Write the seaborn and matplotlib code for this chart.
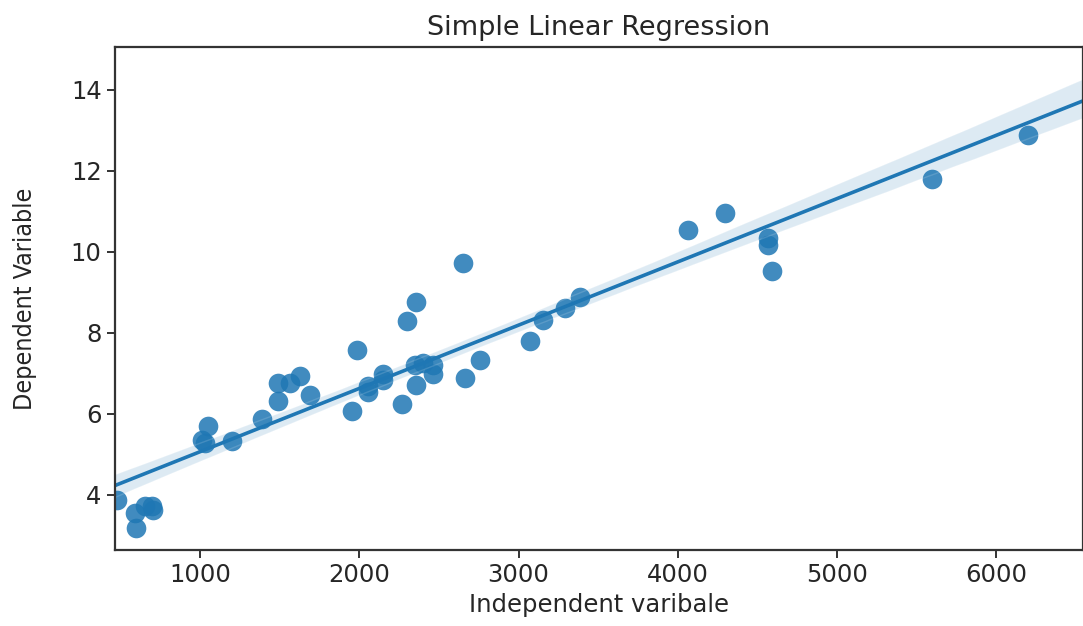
import numpy as np
import pandas as pd
import matplotlib
matplotlib.use("Agg")
import matplotlib.pyplot as plt
from matplotlib.path import Path
from matplotlib import font_manager
from matplotlib.font_manager import FontProperties
import seaborn as sns

# Data
independent = [480, 592, 598, 654, 698, 705, 1013, 1031, 1050, 1201, 1389, 1490,
               1490, 1565, 1628, 1690, 1954, 1985, 2055, 2055, 2149, 2149, 2268,
               2300, 2350, 2356, 2356, 2400, 2462, 2462, 2651, 2663, 2758, 3072,
               3153, 3291, 3386, 4064, 4296, 4566, 4566, 4591, 5595, 6198]
dependent = [3.88, 3.56, 3.19, 3.73, 3.73, 3.62, 5.36, 5.28, 5.70, 5.33, 5.88, 6.32,
             6.77, 6.77, 6.94, 6.47, 6.07, 7.58, 6.69, 6.54, 6.99, 6.84, 6.25,
             8.30, 7.21, 8.77, 6.72, 7.26, 7.21, 6.99, 9.73, 6.89, 7.33, 7.80,
             8.32, 8.62, 8.89, 10.54, 10.96, 10.35, 10.17, 9.53, 11.80, 12.89]

df = pd.DataFrame({"Independent varibale": independent,
                   "Dependent Variable": dependent})

sns.set_style("ticks")
plt.rcParams["font.family"] = ["DejaVu Sans"]

fig = plt.figure(figsize=(10.83, 6.26), dpi=100)
ax = fig.add_axes([0.106, 0.1214, 0.894, 0.8035])

# slightly wide elliptical marker, as in the reference
t = np.linspace(0, 2 * np.pi, 60)
ell = Path(np.column_stack([np.cos(t), 0.8 * np.sin(t)]), closed=True)

ax.set_xlim(466, 6543)
sns.regplot(data=df, x="Independent varibale", y="Dependent Variable", ax=ax,
            color="#1f77b4", truncate=False, seed=3, ci=85,
            scatter_kws={"s": 200, "marker": ell, "alpha": 0.85, "linewidths": 0},
            line_kws={"linewidth": 2.6})
ax.set_xlim(466, 6543)
ax.set_ylim(2.64, 15.06)
ax.set_yticks([4, 6, 8, 10, 12, 14])
ax.set_xticks([1000, 2000, 3000, 4000, 5000, 6000])

for s in ax.spines.values():
    s.set_visible(True)
    s.set_linewidth(1.6)
    s.set_color("#333333")
ax.tick_params(labelsize=17.5, length=6, width=1.4, colors="#333333",
               labelcolor="#262626")

ax.set_title("Simple Linear Regression", fontsize=19.5, color="#262626", pad=9)
ax.set_xlabel("Independent varibale", fontsize=17.5, color="#262626", labelpad=4)

# narrow font for the y label, as in the reference
narrow = None
for f in font_manager.fontManager.ttflist:
    fn = f.fname.lower()
    if ("narrow" in fn or "condensed" in fn) and "bold" not in fn and "italic" not in fn \
            and "oblique" not in fn:
        if narrow is None or "liberation" in fn:
            narrow = f.fname
if narrow:
    fp = FontProperties(fname=narrow, size=18)
    ax.set_ylabel("Dependent Variable", fontproperties=fp, color="#262626", labelpad=24)
else:
    ax.set_ylabel("Dependent Variable", fontsize=16, color="#262626",
                  labelpad=24, fontstretch="condensed")

fig.savefig("out.png", dpi=100)
